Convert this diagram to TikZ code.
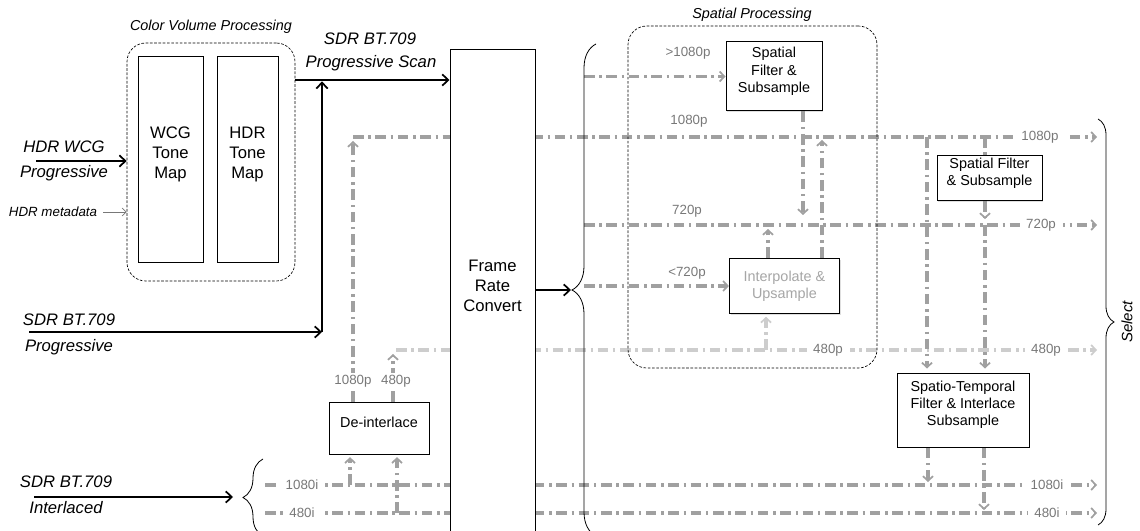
\documentclass[tikz,border=0pt]{standalone}
\usepackage{fontspec}
\setmainfont{Liberation Sans}
\usepackage{tikz}
\usetikzlibrary{arrows.meta, decorations.pathreplacing, fit, backgrounds, shadows}
\definecolor{sigGray}{RGB}{160,160,160}
\definecolor{lblGray}{RGB}{120,120,120}
\definecolor{faintGray}{RGB}{205,205,205}
\tikzset{
  blk/.style={draw, fill=white, line width=0.75pt, inner sep=0pt, align=center,
    font=\fontsize{12.5}{15}\selectfont},
  small/.style={font=\fontsize{10.8}{13}\selectfont,
    drop shadow={opacity=0.25, shadow xshift=1pt, shadow yshift=-1pt}},
  grp/.style={draw, line width=0.5pt, dash pattern=on 2pt off 1.2pt, rounded corners=14pt, inner sep=0pt},
  grptitle/.style={font=\itshape\fontsize{10.8}{13}\selectfont},
  src/.style={font=\itshape\fontsize{12.5}{15}\selectfont},
  sig/.style={draw=sigGray, line width=2.3pt, dash pattern=on 8pt off 3.5pt on 1.8pt off 3.5pt},
  sigp/.style={sig, draw=faintGray},
  tipg/.style={-{Straight Barb[length=3.5pt, width=7.5pt, line width=1.3pt]}},
  main/.style={line width=1.5pt, -{Straight Barb[length=4.5pt, width=8.5pt, line width=1.3pt]}},
  rate/.style={text=lblGray, font=\fontsize{10}{12}\selectfont, inner sep=1.5pt},
  onl/.style={rate, fill=white, inner xsep=5pt},
  curly/.style={decorate, line width=0.6pt, decoration={brace, amplitude=#1}},
}
\begin{document}
\begin{tikzpicture}[x=0.75pt, y=-0.75pt]
  \useasboundingbox (0,0) rectangle (1140,531);

  % colour volume processing
  \node[grp, fit={(127,43) (295,281)}] (cvp) {};
  \node[grptitle] (cvpT) at (211,27) {Color Volume Processing};
  \node[blk, fit={(138,57) (203,263)}] (wcg) {WCG\\Tone\\Map};
  \node[blk, fit={(217,57) (278,263)}] (hdr) {HDR\\Tone\\Map};

  % frame rate conversion
  \node[blk, fit={(450,50) (535,534)}] (frc) {Frame\\Rate\\Convert};

  % spatial processing
  \node[grp, fit={(628,26) (877,368)}] (spg) {};
  \node[grptitle] (spgT) at (752,15) {Spatial Processing};
  \node[blk, small, fit={(726,42) (822,111)}] (sf1) {Spatial\\Filter \&\\Subsample};
  \node[blk, small, line width=0.9pt, fit={(729.5,258.5) (839.5,313.5)}] (iu) {};
  \node[align=center, text=black!35, font=\fontsize{10.8}{13}\selectfont] (iuT) at (iu.center) {Interpolate \&\\Upsample};
  \node[blk, small, fit={(937,156) (1042,201)}] (sf2) {Spatial Filter\\\& Subsample};
  \node[blk, small, fit={(897,373) (1029,447)}] (st) {Spatio-Temporal\\Filter \& Interlace\\Subsample};
  \node[blk, small, fit={(329,402) (429,454)}] (dei) {De-interlace};

  % sources
  \node[src] (hdrT) at (64,147) {HDR WCG};
  \node[src] (hdrB) at (64,173) {Progressive};
  \node[font=\itshape\fontsize{10}{12}\selectfont] (metaT) at (53,212) {HDR metadata};
  \node[src] (sdrT) at (69,320) {SDR BT.709};
  \node[src] (sdrB) at (69,347) {Progressive};
  \node[src] (intT) at (66,482) {SDR BT.709};
  \node[src] (intB) at (66,508) {Interlaced};
  \node[src] (scanT) at (370,39) {SDR BT.709};
  \node[src] (scanB) at (371,63) {Progressive Scan};
  \node[font=\itshape\fontsize{11.3}{13}\selectfont, rotate=90] (selT) at (1127,322) {Select};

  \coordinate (hdrIn) at (36,161);
  \coordinate (metaIn) at (103,212);
  \coordinate (sdrIn) at (29,332);
  \coordinate (bend) at (322,332);
  \coordinate (scan) at (322,80);
  \coordinate (intIn) at (34,497);
  \coordinate (intEnd) at (233,497);
  \coordinate (fork) at (571,290);

  \draw[main] (hdrIn) -- (cvp.west |- hdrIn);
  \draw[lblGray, line width=0.5pt, -{Straight Barb[length=3pt, width=6pt]}] (metaIn) -- (cvp.west |- metaIn);
  \draw[main] (cvp.east |- scan) -- (frc.west |- scan);
  \draw[main] (sdrIn) -- (bend);
  \draw[main, shorten >=1pt] (bend) -- (scan);
  \draw[main] (intIn) -- (intEnd);
  \draw[main] (frc.east |- fork) -- (fork);

  % braces
  \draw[curly=18pt] (596,536) -- (596,44);
  \draw[curly=15pt] (263,536) -- (263,459);
  \draw[curly=12pt] (1098,119) -- (1098,525);

  \begin{scope}[on background layer]
    \coordinate (hiS) at (584,76.5);
    \coordinate (p1080S) at (353,137);  \coordinate (p1080E) at (1097,137);
    \coordinate (p720S) at (584,225);   \coordinate (p720E) at (1097,225);
    \coordinate (loS) at (584,286);
    \coordinate (p480S) at (396,350);   \coordinate (p480E) at (1097,350);
    \coordinate (i1080S) at (265,485);  \coordinate (i1080E) at (1097,485);
    \coordinate (i480S) at (265,513);   \coordinate (i480E) at (1097,513);
    \draw[sig, tipg] (hiS) -- (sf1.west);
    \draw[sig, tipg] (p1080S) -- (p1080E);
    \draw[sig, tipg] (p720S) -- (p720E);
    \draw[sig, tipg] (loS) -- (iu.west);
    \draw[sigp, tipg] (p480S) -- (p480E);
    \draw[sig, tipg] (i1080S) -- (i1080E);
    \draw[sig, tipg] (i480S) -- (i480E);

    % taps
    \coordinate (dA) at (353,141);
    \coordinate (dB) at (393,354);
    \coordinate (dC) at (350,485);
    \coordinate (dD) at (397,513);
    \coordinate (sA) at (803,215);
    \coordinate (uA) at (822,140);
    \coordinate (uB) at (768,229);
    \coordinate (uC) at (766,350);
    \coordinate (tA) at (927,137);
    \coordinate (tB) at (985,137);
    \coordinate (tC) at (985,219);
    \coordinate (tD) at (985,225);
    \coordinate (tE) at (928,482);
    \coordinate (tF) at (984,510);
    \draw[sig, tipg] (dei.north -| dA) -- (dA);
    \draw[sig, tipg] (dei.north -| dB) -- (dB);
    \draw[sig, tipg, shorten >=2pt] (dC) -- (dei.south -| dC);
    \draw[sig, tipg, shorten >=2pt] (dD) -- (dei.south -| dD);
    \draw[sig, tipg] (sf1.south -| sA) -- (sA);
    \draw[sig, tipg] (iu.north -| uA) -- (uA);
    \draw[sig, tipg] (iu.north -| uB) -- (uB);
    \draw[sigp, tipg, shorten >=2pt] (uC) -- (iu.south -| uC);
    \draw[sig, tipg, shorten >=3pt] (tA) -- (st.north -| tA);
    \draw[sig] (tB) -- (sf2.north -| tB);
    \draw[sig, tipg] (sf2.south -| tC) -- (tC);
    \draw[sig, tipg, shorten >=3pt] (tD) -- (st.north -| tD);
    \draw[sig, tipg] (st.south -| tE) -- (tE);
    \draw[sig, tipg] (st.south -| tF) -- (tF);

    % rates on the rows
    \node[onl] (r1080) at (1040,137) {1080p};
    \node[onl] (r720) at (1041,225) {720p};
    \node[onl] (r480) at (1046,350) {480p};
    \node[onl] (m480) at (828,350) {480p};
    \node[onl] (r1080i) at (1047,485) {1080i};
    \node[onl] (r480i) at (1047,513) {480i};
    \node[onl] (l1080i) at (302,485) {1080i};
    \node[onl] (l480i) at (302,513) {480i};
    \node[onl, inner xsep=1.5pt] (d1080) at (353,381) {1080p};
    \node[onl, inner xsep=1.5pt] (d480) at (396,381) {480p};
  \end{scope}
  \node[rate] (a1) at (688,53) {>1080p};
  \node[rate] (a2) at (689,121) {1080p};
  \node[rate] (a3) at (687,211) {720p};
  \node[rate] (a4) at (687,273) {<720p};
\end{tikzpicture}
\end{document}
